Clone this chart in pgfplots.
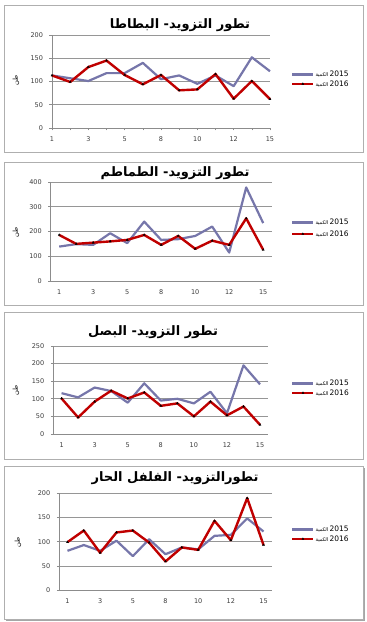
\documentclass[border=0pt]{standalone}
\usepackage{fontspec}
\usepackage{pgfplots}
\pgfplotsset{compat=1.18}
\setmainfont{DejaVu Sans}
\newfontfamily\arabicfont[Script=Arabic]{DejaVu Sans}
\TeXXeTstate=1
\definecolor{bluel}{RGB}{118,118,170}
\definecolor{redl}{RGB}{192,0,0}
\definecolor{axgray}{RGB}{140,140,140}
\definecolor{gridgray}{RGB}{150,150,150}
\definecolor{labgray}{RGB}{60,60,60}
\definecolor{boxgray}{RGB}{175,175,175}
\pgfplotsset{
  panel/.style={
    scale only axis,
    axis lines*=left,
    axis line style={draw=axgray, line width=0.6pt},
    ymin=0,
    ymajorgrids,
    grid style={draw=gridgray, line width=0.6pt},
    tick align=outside,
    major tick length=2.5pt,
    tick style={draw=axgray, line width=0.6pt},
    xtick={1,...,13},
    xticklabels={1,,3,,5,,8,,10,,12,,15},
    tick label style={font=\fontsize{6.5}{8}\selectfont, text=labgray},
    xticklabel style={yshift=-3pt},
    yticklabel style={xshift=-3pt},
    /pgf/number format/assume math mode=true,
    legend style={draw=none, fill=none, font=\fontsize{7.5}{9}\selectfont,
      anchor=north west, inner sep=0pt, row sep=1pt,
      nodes={text height=5.5pt, text depth=1pt, inner sep=1pt}},
    legend cell align=left,
    legend image code/.code={\draw[mark repeat=2,mark phase=2,##1] plot coordinates {(0pt,0pt) (10.5pt,0pt) (21pt,0pt)};},
    clip=false,
  },
  s15/.style={color=bluel, line width=2.2pt, line join=round, no markers},
  s16/.style={color=redl, line width=2.4pt, line join=round, mark=triangle*, mark size=1.3pt, mark options={fill=black, draw=black, line width=0.2pt}},
}
\newcommand{\lgA}{{\arabicfont\fontsize{5}{6}\selectfont\beginR الكمية\endR}\,2015}
\newcommand{\lgB}{{\arabicfont\fontsize{5}{6}\selectfont\beginR الكمية\endR}\,2016}
\begin{document}
\begin{tikzpicture}
\path[use as bounding box] (0pt,0pt) rectangle (367pt,622pt);
\fill[white] (0pt,0pt) rectangle (367pt,622pt);
% panel frames
\draw[boxgray, line width=0.8pt] (4pt,470pt) rectangle (363pt,617pt);
\draw[boxgray, line width=0.8pt] (4pt,317pt) rectangle (363pt,460pt);
\draw[boxgray, line width=0.8pt] (4pt,163pt) rectangle (363pt,310pt);
\fill[gray!70] (6pt,0.5pt) rectangle (365pt,2.5pt);
\fill[gray!70] (363pt,0.5pt) rectangle (365pt,154pt);
\draw[boxgray, line width=0.8pt] (4pt,2.5pt) rectangle (363pt,156pt);

% Panel 1
\begin{axis}[panel, at={(52pt,494pt)}, anchor=south west, width=218pt, height=93pt,
  xmin=1, xmax=13, ymax=200, ytick={0,50,...,200},
  legend style={at={(rel axis cs:1.096,0.624)}}]
\addplot[s15] coordinates {(1,113)(2,107)(3,101)(4,118)(5,118)(6,140)(7,105)(8,113)(9,95)(10,113)(11,90)(12,152)(13,122)};
\addplot[s16] coordinates {(1,113)(2,99)(3,131)(4,145)(5,114)(6,94)(7,114)(8,81)(9,83)(10,116)(11,63)(12,101)(13,62)};
\legend{\lgA,\lgB}
\end{axis}
\node[font=\arabicfont\bfseries\fontsize{13}{15}\selectfont] at (180pt,597pt) {\beginR تطور التزويد- البطاطا\endR};
\node[rotate=90, font=\arabicfont\fontsize{6.5}{8}\selectfont] at (16pt,542pt) {\beginR طن\endR};

% Panel 2
\begin{axis}[panel, at={(50.7pt,341pt)}, anchor=south west, width=221pt, height=99pt,
  xmin=0.5, xmax=13.5, ymax=400, ytick={0,100,...,400},
  extra x ticks={0.5,1.5,...,13.5}, extra x tick labels={},
  extra x tick style={grid=none, major tick length=2.5pt},
  xtick style={draw=none},
  legend style={at={(rel axis cs:1.087,0.636)}, row sep=3pt}]
\addplot[s15] coordinates {(1,139)(2,149)(3,146)(4,193)(5,153)(6,240)(7,166)(8,169)(9,182)(10,220)(11,115)(12,378)(13,234)};
\addplot[s16] coordinates {(1,186)(2,150)(3,155)(4,160)(5,166)(6,186)(7,146)(8,182)(9,130)(10,163)(11,146)(12,253)(13,126)};
\legend{\lgA,\lgB}
\end{axis}
\node[font=\arabicfont\bfseries\fontsize{13}{15}\selectfont] at (175pt,449pt) {\beginR تطور التزويد- الطماطم\endR};
\node[rotate=90, font=\arabicfont\fontsize{6.5}{8}\selectfont] at (16pt,390pt) {\beginR طن\endR};

% Panel 3
\begin{axis}[panel, at={(53.3pt,188pt)}, anchor=south west, width=215pt, height=88pt,
  xmin=0.5, xmax=13.5, ymax=250, ytick={0,50,...,250},
  extra x ticks={0.5,1.5,...,13.5}, extra x tick labels={},
  extra x tick style={grid=none, major tick length=2.5pt},
  xtick style={draw=none},
  legend style={at={(rel axis cs:1.106,0.625)}}]
\addplot[s15] coordinates {(1,116)(2,104)(3,132)(4,122)(5,89)(6,144)(7,95)(8,100)(9,87)(10,120)(11,59)(12,195)(13,141)};
\addplot[s16] coordinates {(1,101)(2,47)(3,92)(4,123)(5,101)(6,118)(7,80)(8,87)(9,50)(10,92)(11,53)(12,78)(13,26)};
\legend{\lgA,\lgB}
\end{axis}
\node[font=\arabicfont\bfseries\fontsize{13}{15}\selectfont] at (153pt,290pt) {\beginR تطور التزويد- البصل\endR};
\node[rotate=90, font=\arabicfont\fontsize{6.5}{8}\selectfont] at (16pt,232pt) {\beginR طن\endR};

% Panel 4
\begin{axis}[panel, at={(59.3pt,32pt)}, anchor=south west, width=212.4pt, height=96.7pt,
  xmin=0.5, xmax=13.5, ymax=200, ytick={0,50,...,200},
  extra x ticks={0.5,1.5,...,13.5}, extra x tick labels={},
  extra x tick style={grid=none, major tick length=2.5pt},
  xtick style={draw=none},
  legend style={at={(rel axis cs:1.091,0.672)}}]
\addplot[s15] coordinates {(1,81)(2,93)(3,81)(4,102)(5,70)(6,105)(7,74)(8,88)(9,84)(10,112)(11,114)(12,148)(13,121)};
\addplot[s16] coordinates {(1,99)(2,123)(3,77)(4,119)(5,123)(6,98)(7,59)(8,88)(9,83)(10,143)(11,103)(12,190)(13,93)};
\legend{\lgA,\lgB}
\end{axis}
\node[font=\arabicfont\bfseries\fontsize{13}{15}\selectfont] at (175pt,144pt) {\beginR تطورالتزويد- الفلفل الحار\endR};
\node[rotate=90, font=\arabicfont\fontsize{6.5}{8}\selectfont] at (18pt,80pt) {\beginR طن\endR};
\end{tikzpicture}
\end{document}
